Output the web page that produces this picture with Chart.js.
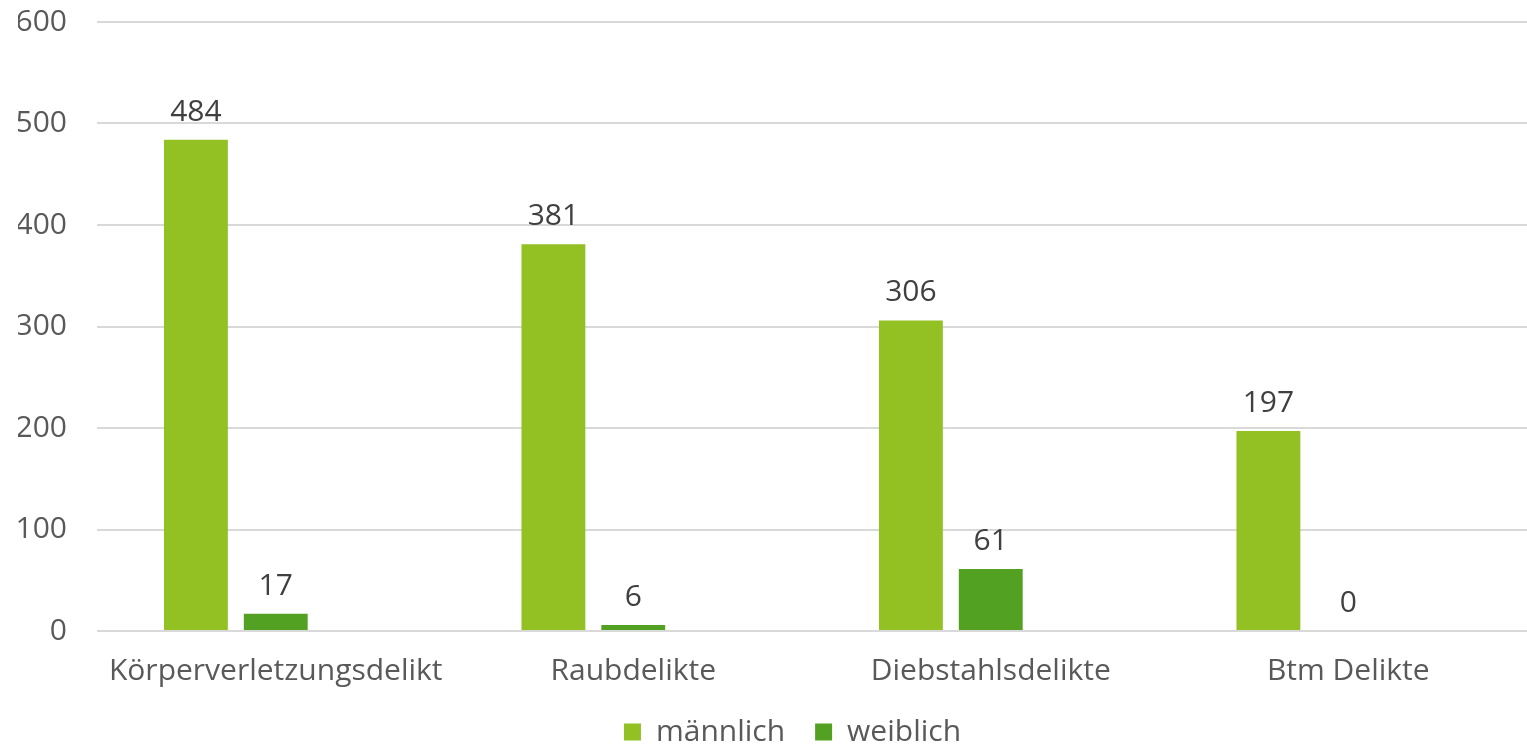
<!DOCTYPE html>
<html>
<head>
<meta charset="utf-8">
<script src="https://cdn.jsdelivr.net/npm/chart.js@4"></script>
<style>
  html, body { margin: 0; padding: 0; background: #ffffff; }
  #wrap { width: 1527px; height: 746px; }
</style>
</head>
<body>
<div id="wrap"><canvas id="chart" width="1527" height="746"></canvas></div>
<script>
// -- DATA ----------------------------------------------
const categories = ["Körperverletzungsdelikt", "Raubdelikte", "Diebstahlsdelikte", "Btm Delikte"];
const maleValues = [484, 381, 306, 197];
const femaleValues = [17, 6, 61, 0];
const seriesNames = ["männlich", "weiblich"];
const yTicks = [0, 100, 200, 300, 400, 500, 600];

const FONT = "Open Sans";
const TEXT = "#404040";
const AXIS_TEXT = "#595959";
const SIZE = 30;

// draws the value above each visible bar
const valueLabels = {
  id: "valueLabels",
  afterDatasetsDraw(chart) {
    const ctx = chart.ctx;
    ctx.save();
    ctx.font = `${SIZE}px "${FONT}"`;
    ctx.fillStyle = TEXT;
    ctx.textAlign = "center";
    ctx.textBaseline = "alphabetic";
    chart.data.datasets.forEach((ds, i) => {
      if (!ds.showValues) return;
      chart.getDatasetMeta(i).data.forEach((bar, j) => {
        ctx.fillText(String(ds.data[j]), bar.x, bar.y - 19);
      });
    });
    ctx.restore();
  }
};

// legend centring ignores the trailing item padding, nudge it back
const legendShift = {
  id: "legendShift",
  afterLayout(chart) {
    if (!chart.legend) return;
    chart.legend.left += 20;
    chart.legend.right += 20;
  }
};

new Chart(document.getElementById("chart"), {
  type: "bar",
  data: {
    labels: categories,
    datasets: [
      { label: seriesNames[0], data: maleValues, backgroundColor: "#93C123", showValues: true },
      { label: seriesNames[1], data: femaleValues, backgroundColor: "#53A123", showValues: true },
      // empty third slot keeps the bars left of the category centre, as in the source
      { label: "", data: categories.map(() => null), backgroundColor: "rgba(0,0,0,0)" }
    ]
  },
  options: {
    responsive: false,
    animation: false,
    layout: { padding: { top: 22, right: 0, left: 18, bottom: -11 } },
    datasets: { bar: { categoryPercentage: 0.67, barPercentage: 0.8 } },
    scales: {
      x: {
        afterFit: (s) => { s.paddingLeft = 0; s.paddingRight = 0; s.height = 56; },
        grid: { display: false, drawTicks: false },
        border: { display: false },
        ticks: { color: AXIS_TEXT, font: { family: FONT, size: SIZE }, padding: 22, maxRotation: 0 }
      },
      y: {
        min: 0,
        max: 600,
        afterBuildTicks: (axis) => { axis.ticks = yTicks.map((v) => ({ value: v })); },
        afterFit: (s) => { s.paddingTop = 0; s.paddingBottom = 0; s.width = 79; },
        grid: { color: "#D9D9D9", lineWidth: 2, drawTicks: false },
        border: { display: false },
        ticks: { color: AXIS_TEXT, font: { family: FONT, size: SIZE }, padding: 30 }
      }
    },
    plugins: {
      tooltip: { enabled: false },
      legend: {
        position: "bottom",
        labels: {
          color: AXIS_TEXT,
          font: { family: FONT, size: SIZE },
          boxWidth: 17,
          boxHeight: 17,
          padding: 30,
          filter: (item) => item.text !== ""
        }
      }
    }
  },
  plugins: [valueLabels, legendShift]
});
</script>
</body>
</html>
